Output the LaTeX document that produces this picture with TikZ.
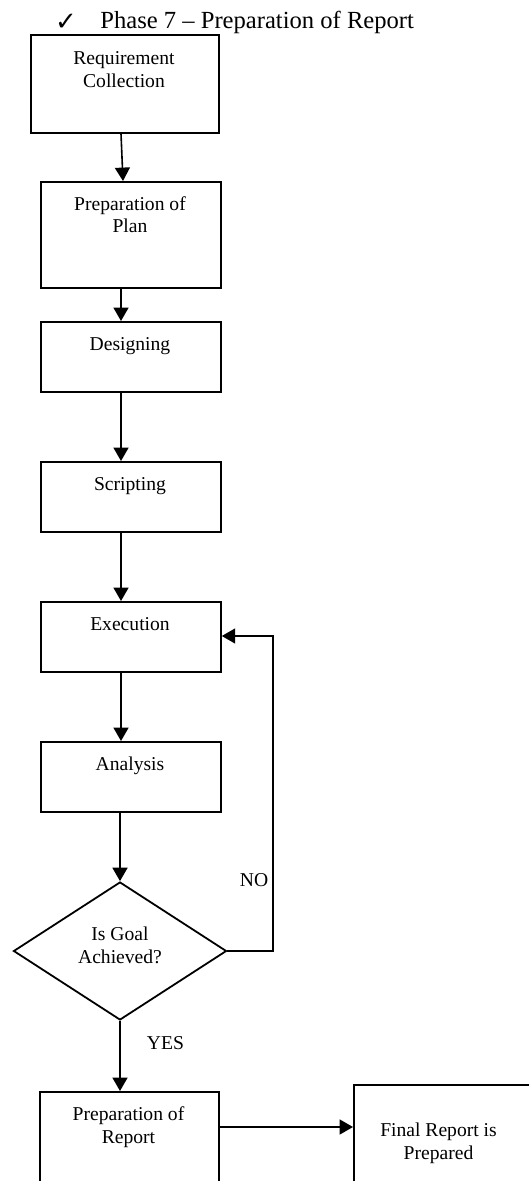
\documentclass[tikz,border=0pt]{standalone}
\usepackage{fontspec}
\setmainfont{Liberation Serif}
\newfontfamily\symfont{DejaVu Sans}
\usetikzlibrary{shapes.geometric,arrows.meta}

\begin{document}
\begin{tikzpicture}[x=0.5pt,y=-0.5pt,
  box/.style={draw,line width=0.9pt,anchor=north west,inner sep=0pt},
  txt/.style={align=center,anchor=base,inner sep=0pt,font=\fontsize{9.8}{11.3}\selectfont},
  arr/.style={line width=0.8pt,-{Triangle[width=7.5pt,length=6.7pt]}}]
\useasboundingbox (0,0) rectangle (529,1181);
\clip (0,0) rectangle (529,1181);
%heading
\node[inner sep=0pt,font=\symfont\fontsize{13}{15}\selectfont] (tick) at (66,22) {✓};
\node[anchor=base west,inner sep=0pt,font=\fontsize{12.3}{14}\selectfont] (head) at (100,28.5) {Phase 7 -- Preparation of Report};
%boxes
\node[box,minimum width=94pt,minimum height=48.75pt] (req) at (30,34.5) {};
\node[box,minimum width=90pt,minimum height=53pt] (plan) at (40,181) {};
\node[box,minimum width=90pt,minimum height=35pt] (design) at (40,321) {};
\node[box,minimum width=90pt,minimum height=35pt] (script) at (40,461) {};
\node[box,minimum width=90pt,minimum height=35pt] (exec) at (40,601) {};
\node[box,minimum width=90pt,minimum height=35pt] (anal) at (40,741) {};
\node[draw,line width=0.9pt,diamond,inner sep=0pt,minimum width=106.5pt,minimum height=69pt] (goal) at (120,951) {};
\node[box,minimum width=89.5pt,minimum height=60pt] (rep) at (39,1091) {};
\node[box,minimum width=95pt,minimum height=60pt] (final) at (353,1084) {};
%texts (anchored at the last line)
\node[txt] (reqtxt) at (124,87.5) {Requirement\\Collection};
\node[txt] (plantxt) at (130,233) {Preparation of\\Plan};
\node[txt] (designtxt) at (130,350.7) {Designing};
\node[txt] (scripttxt) at (130,490.7) {Scripting};
\node[txt] (exectxt) at (130,630) {Execution};
\node[txt] (analtxt) at (130,770.7) {Analysis};
\node[txt] (goaltxt) at (120,963) {Is Goal\\Achieved?};
\node[txt] (reptxt) at (128.5,1143) {Preparation of\\Report};
\node[txt] (finaltxt) at (438.5,1159) {Final Report is\\Prepared};
\node[txt] (no) at (254,886) {NO};
\node[txt] (yes) at (165.5,1049.3) {YES};
%connectors
\coordinate (axis) at (121,0);
\coordinate (loop) at (273,636);
\coordinate (finin) at (353,1127);
\draw[arr] (req.south -| axis) -- ([xshift=1pt]plan.north -| axis);
\draw[arr] (plan.south -| axis) -- (design.north -| axis);
\draw[arr] (design.south -| axis) -- (script.north -| axis);
\draw[arr] (script.south -| axis) -- (exec.north -| axis);
\draw[arr] (exec.south -| axis) -- (anal.north -| axis);
\draw[arr] (anal.south -| goal.north) -- (goal.north);
\draw[arr] (goal.south) -- (rep.north -| goal.south);
\draw[arr] (goal.east) -| (loop) -- (loop -| exec.east);
\draw[arr] (finin -| rep.east) -- (finin);
\end{tikzpicture}
\end{document}
